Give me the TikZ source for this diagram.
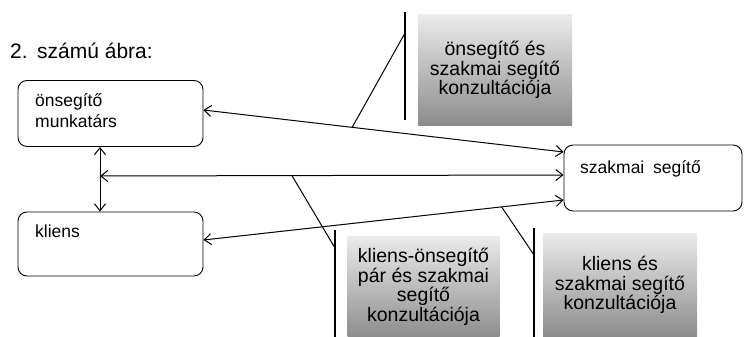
\documentclass[tikz,border=0pt]{standalone}
\usepackage{fontspec}
\setmainfont{Liberation Sans}
\usetikzlibrary{arrows.meta}
\tikzset{
  actor/.style={draw=black, line width=0.9pt, rounded corners=9pt,
    minimum width=185pt, minimum height=66pt, inner sep=0pt},
  boxtext/.style={align=left, inner sep=0pt, font=\fontsize{17.5}{21}\selectfont},
  link/.style={line width=1pt,
    {Straight Barb[length=7pt,width=11pt]}-{Straight Barb[length=7pt,width=11pt]}},
  note/.style={inner sep=0pt, top color=black!8, bottom color=black!45,
    align=center, font=\fontsize{19.5}{19.5}\selectfont},
  rule/.style={line width=1.4pt},
  leader/.style={line width=1pt},
}
\begin{document}
\begin{tikzpicture}[x=1pt, y=-1pt]
  \useasboundingbox (0,0) rectangle (744,337);

  % title
  \node[anchor=base west, inner sep=0pt, font=\fontsize{21}{24}\selectfont]
    (title) at (10,59) {2.\hspace{0.45em}számú ábra:};

  % the three parties
  \node[actor] (m) at (110.5,113.5) {};
  \node[actor, minimum height=64pt] (k) at (110.5,244) {};
  \node[actor, minimum width=178pt] (s) at (653,178) {};

  \node[boxtext, anchor=north west] (mtxt) at (35,93) {önsegítő\\munkatárs};
  \node[boxtext, anchor=base west] (ktxt) at (35,237) {kliens};
  \node[boxtext, anchor=base west] (stxt) at (580,173) {szakmai\hspace{0.5em}segítő};

  % junction on the vertical link
  \coordinate (j) at (100,176);

  % links between the parties
  \draw[link] ([xshift=-10.5pt]m.south) -- ([xshift=-10.5pt]k.north);
  \draw[link] ([yshift=3.5pt]m.east) -- coordinate[pos=0.413] (a1) ([yshift=26pt]s.west);
  \draw[link] (j) -- coordinate[pos=0.414] (a2) ([yshift=3pt]s.west);
  \draw[link] ([yshift=4pt]k.east) -- coordinate[pos=0.828] (a3) ([yshift=-22pt]s.west);

  % callout panels
  \node[note, minimum width=154pt, minimum height=110pt] (n1) at (495,70)
    {önsegítő és\\szakmai segítő\\konzultációja};
  \node[note, minimum width=152pt, minimum height=102pt] (n2) at (423.5,287)
    {kliens-önsegítő\\pár és szakmai\\segítő\\konzultációja};
  \node[note, minimum width=154pt, minimum height=104pt] (n3) at (620,285)
    {kliens és\\szakmai segítő\\konzultációja};

  % callout bars and their leaders
  \coordinate (r1t) at (405,12);  \coordinate (r1b) at (405,120); \coordinate (c1) at (405,33);
  \coordinate (r2t) at (335,230); \coordinate (r2b) at (335,337); \coordinate (c2) at (335,248);
  \coordinate (r3t) at (534,228); \coordinate (r3b) at (534,337); \coordinate (c3) at (534,255);
  \draw[rule] (r1t) -- (r1b);
  \draw[rule] (r2t) -- (r2b);
  \draw[rule] (r3t) -- (r3b);
  \draw[leader] (a1) -- (c1);
  \draw[leader] (a2) -- (c2);
  \draw[leader] (a3) -- (c3);
\end{tikzpicture}
\end{document}
